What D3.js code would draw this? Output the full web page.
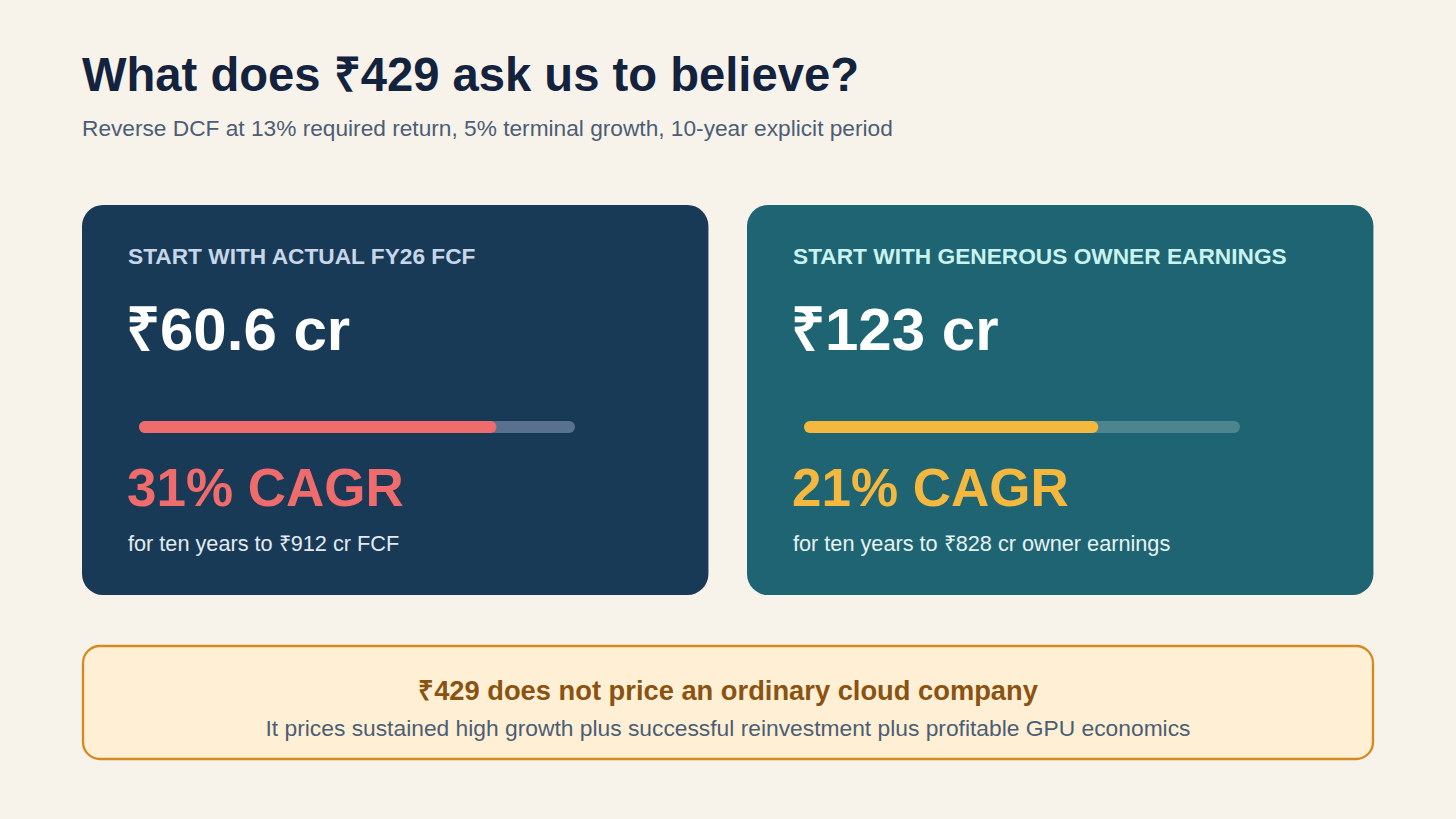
<!DOCTYPE html>
<html>
<head>
<meta charset="utf-8">
<script src="https://cdn.jsdelivr.net/npm/d3@7"></script>
<style>
  html, body { margin: 0; padding: 0; background: #f7f3eb; }
  svg { display: block; }
  text { font-family: "Liberation Sans", Arial, Helvetica, sans-serif; }
</style>
</head>
<body>
<svg id="chart" width="1456" height="819"></svg>
<script>
// ---- data ----
const titleText = "What does ₹429 ask us to believe?";
const subtitleText = "Reverse DCF at 13% required return, 5% terminal growth, 10-year explicit period";
const cardTitles = ["START WITH ACTUAL FY26 FCF", "START WITH GENEROUS OWNER EARNINGS"];
const startValues = [60.6, 123];          // ₹ cr
const cagrValues = [31, 21];              // % CAGR
const endValues = [912, 828];             // ₹ cr after ten years
const endMetrics = ["FCF", "owner earnings"];
const barShares = [0.82, 0.675];          // progress bar fill share
const calloutTitle = "₹429 does not price an ordinary cloud company";
const calloutText = "It prices sustained high growth plus successful reinvestment plus profitable GPU economics";

// ---- styles ----
const cardStyles = [
  { bg: "#183a56", head: "#c7d6e8", track: "#58718f", fill: "#f06b6b", sub: "#e3eaf2" },
  { bg: "#1f6472", head: "#c9f3ef", track: "#4e848d", fill: "#f5b83f", sub: "#e6f3f3" }
];

const svg = d3.select("#chart");
const W = 1456, H = 819;
svg.append("rect").attr("width", W).attr("height", H).attr("fill", "#f7f3eb");

const left = 82, right = 1374;

svg.append("text").attr("x", left).attr("y", 91)
  .attr("font-size", 47.2).attr("font-weight", 700).attr("fill", "#13223d")
  .text(titleText);
svg.append("text").attr("x", left).attr("y", 136)
  .attr("font-size", 22.7).attr("fill", "#4c5d74")
  .text(subtitleText);

// card layout
const gap = 38;
const cardTop = 205, cardH = 390;
const xCard = d3.scaleBand().domain(d3.range(cardTitles.length))
  .range([left, right]).paddingInner(gap / ((right - left) / 2)).paddingOuter(0);

const trackX0 = 57, trackW = 436, trackY = 216, trackH = 12;
const barScale = d3.scaleLinear().domain([0, 1]).range([0, trackW]);

const cards = svg.selectAll("g.card").data(d3.range(cardTitles.length)).join("g")
  .attr("class", "card")
  .attr("transform", i => `translate(${Math.floor(xCard(i))},${cardTop})`);

cards.append("rect")
  .attr("width", xCard.bandwidth()).attr("height", cardH)
  .attr("rx", 21).attr("fill", i => cardStyles[i].bg);

cards.append("text").attr("x", 46).attr("y", 59)
  .attr("font-size", 22.7).attr("font-weight", 700)
  .attr("fill", i => cardStyles[i].head)
  .text(i => cardTitles[i]);

cards.append("text").attr("x", 44).attr("y", 145)
  .attr("font-size", 60).attr("font-weight", 700).attr("fill", "#ffffff")
  .text(i => `₹${startValues[i]} cr`);

cards.append("rect")
  .attr("x", trackX0).attr("y", trackY).attr("width", barScale(1)).attr("height", trackH)
  .attr("rx", trackH / 2).attr("fill", i => cardStyles[i].track);

cards.append("rect")
  .attr("x", trackX0).attr("y", trackY).attr("width", i => barScale(barShares[i])).attr("height", trackH)
  .attr("rx", trackH / 2).attr("fill", i => cardStyles[i].fill);

cards.append("text").attr("x", 45).attr("y", 301)
  .attr("font-size", 53).attr("font-weight", 700)
  .attr("fill", i => cardStyles[i].fill)
  .text(i => `${cagrValues[i]}% CAGR`);

cards.append("text").attr("x", 46).attr("y", 346)
  .attr("font-size", 21.7).attr("fill", i => cardStyles[i].sub)
  .text(i => `for ten years to ₹${endValues[i]} cr ${endMetrics[i]}`);

// callout
const cTop = 646, cH = 113;
svg.append("rect").attr("x", left + 1).attr("y", cTop).attr("width", right - left - 2).attr("height", cH)
  .attr("rx", 17).attr("fill", "#fff0d5").attr("stroke", "#d6891f").attr("stroke-width", 2.3);
svg.append("text").attr("x", (left + right) / 2).attr("y", 700).attr("text-anchor", "middle")
  .attr("font-size", 27.3).attr("font-weight", 700).attr("fill", "#8a5312")
  .text(calloutTitle);
svg.append("text").attr("x", (left + right) / 2).attr("y", 736).attr("text-anchor", "middle")
  .attr("font-size", 22.8).attr("fill", "#4c5d74")
  .text(calloutText);
</script>
</body>
</html>
